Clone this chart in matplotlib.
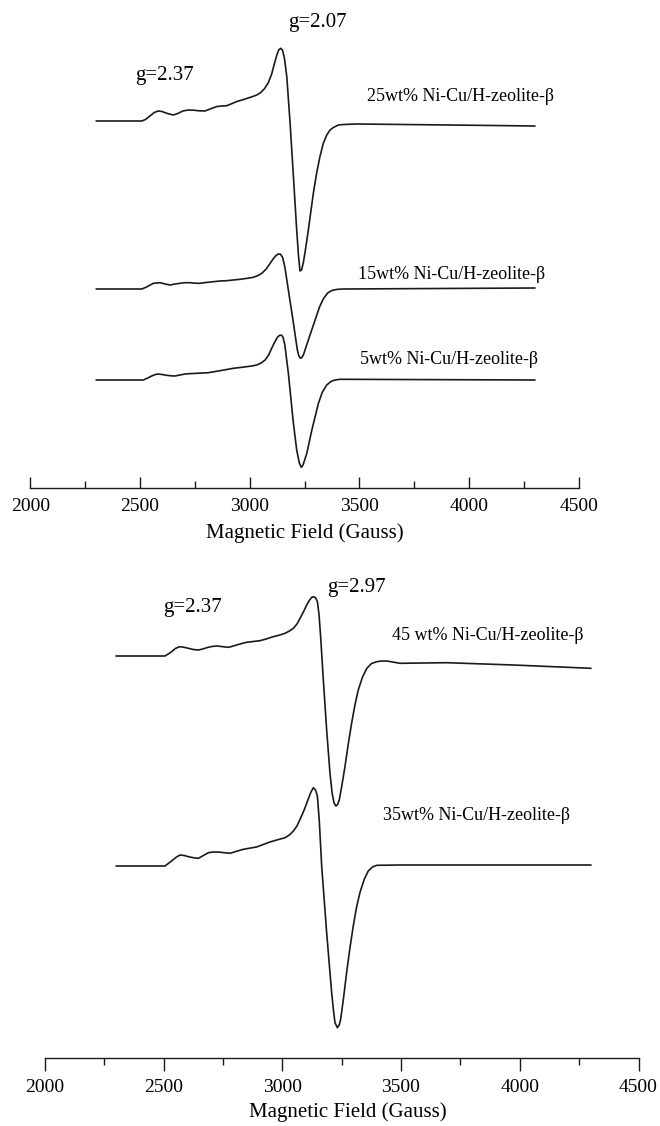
import numpy as np
import matplotlib
matplotlib.use("Agg")
import matplotlib.pyplot as plt
from matplotlib.ticker import MultipleLocator

plt.rcParams['font.family'] = ['Liberation Serif', 'DejaVu Serif']

# ---- EPR spectra (field in Gauss, signal in arbitrary units above each baseline) ----
field_25 = [2300, 2508, 2525, 2545, 2565, 2583, 2600, 2625, 2652, 2672, 2695, 2720, 2745,
            2770, 2796, 2825, 2850, 2875, 2895, 2920, 2941, 2965, 2986, 3010, 3032, 3050,
            3068, 3085, 3100, 3112, 3122, 3132, 3141, 3149, 3158, 3169, 3184, 3199, 3214,
            3222, 3229, 3236, 3244, 3255, 3267, 3290, 3305, 3320, 3335, 3351, 3366, 3381,
            3404, 3427, 3488, 3913, 4300]
signal_25 = [0, 0, 1.5, 5, 8.5, 10, 9.5, 7.5, 6, 7.5, 10, 11, 10.8,
             10.2, 10, 12.5, 14.5, 15, 15.3, 17.5, 19.5, 21, 22.5, 24.2, 26, 28.5,
             32.5, 38.5, 47, 57, 65, 71, 72.7, 71, 63, 44, -2.5, -55.5, -109,
             -134, -150, -149, -142, -127, -109, -72, -52, -35.5, -22.5, -14, -9, -6.5,
             -4, -3.5, -3, -4, -5]

field_15 = [2300, 2508, 2530, 2561, 2591, 2615, 2637, 2660, 2682, 2705, 2728, 2750, 2773,
            2800, 2834, 2865, 2895, 2925, 2956, 2986, 3016, 3035, 3055, 3075, 3093, 3108,
            3120, 3130, 3140, 3150, 3160, 3176, 3199, 3217, 3224, 3231, 3238, 3246, 3267,
            3298, 3318, 3335, 3355, 3374, 3400, 3427, 4300]
signal_15 = [0, 0, 2, 5.7, 6.3, 5, 4, 5, 5.7, 6.3, 6.3, 5.8, 5.7,
             6.5, 7.3, 8, 8.3, 9, 9.7, 10.6, 11.7, 13.2, 15.7, 20, 25.7, 30.5,
             33.5, 35, 34.8, 31.5, 22, -1, -34, -61, -67, -69.3, -68.5, -65, -51,
             -31, -18, -10, -4, -1.5, -0.3, 0, 1]

field_5 = [2300, 2515, 2535, 2553, 2570, 2583, 2600, 2622, 2640, 2660, 2682, 2705, 2730,
           2758, 2785, 2811, 2838, 2865, 2895, 2925, 2956, 2986, 3010, 3032, 3052, 3070,
           3086, 3100, 3114, 3126, 3136, 3145, 3152, 3160, 3176, 3199, 3214, 3226, 3235,
           3243, 3260, 3283, 3313, 3330, 3351, 3370, 3389, 3412, 4300]
signal_5 = [0, 0, 2, 4, 5.5, 6, 5.5, 4.7, 4.2, 4, 5, 6, 6.4,
            6.7, 7, 7.3, 8.3, 9.3, 10.5, 11.7, 12.5, 13.3, 14, 15, 17, 20,
            25, 31.7, 38, 42.7, 44.7, 44.8, 42.5, 35, 6.7, -43.3, -70, -83, -87.3,
            -85, -73.3, -50, -23.3, -12.5, -5, -1.5, 0, 0.7, 0]

field_45 = [2300, 2506, 2520, 2534, 2550, 2567, 2585, 2605, 2625, 2647, 2665, 2682, 2703,
            2724, 2750, 2773, 2790, 2808, 2830, 2850, 2878, 2906, 2935, 2962, 2990, 3012,
            3030, 3047, 3062, 3075, 3090, 3103, 3115, 3125, 3133, 3141, 3148, 3155, 3162,
            3173, 3187, 3201, 3210, 3218, 3226, 3233, 3240, 3250, 3264, 3278, 3292, 3306,
            3320, 3338, 3356, 3376, 3398, 3420, 3440, 3496, 3692, 3973, 4300]
signal_45 = [0, 0, 2, 4.3, 7.5, 9.3, 8.8, 7.7, 6.5, 6, 7, 8.3, 9.5,
             10, 9.3, 8.7, 9.7, 11, 12.5, 13.7, 14.5, 15.3, 17.2, 19.3, 21, 22.7,
             25, 27.7, 32, 37.7, 44.5, 51, 56, 58.8, 59.3, 58, 54.3, 41, 18,
             -24, -74, -117.3, -137, -147, -150, -148.5, -144, -131, -110.7, -88, -67.3, -49,
             -34, -21, -12.3, -7.5, -5.7, -5, -5, -7.3, -6.7, -9, -12.3]

field_35 = [2300, 2506, 2520, 2534, 2552, 2569, 2587, 2605, 2625, 2647, 2668, 2689, 2710,
            2731, 2755, 2780, 2808, 2836, 2865, 2892, 2920, 2948, 2980, 3012, 3030, 3047,
            3062, 3075, 3086, 3096, 3108, 3120, 3131, 3140, 3148, 3156, 3166, 3187, 3208,
            3215, 3222, 3232, 3240, 3246, 3258, 3271, 3285, 3299, 3313, 3327, 3345, 3362,
            3380, 3398, 3496, 4300]
signal_35 = [0, 0, 2.5, 5, 8.5, 11, 10.5, 9.3, 8.3, 7.7, 10.5, 13.3, 14,
             14, 13.3, 12.7, 14.7, 16.7, 17.9, 19, 21.5, 24, 26.2, 28.3, 31, 35,
             40, 46.7, 52.5, 58.3, 66, 73.5, 78.3, 76, 70, 45, 0, -66.7, -126.7,
             -143, -156.7, -161.7, -159, -153.3, -132, -106.7, -82, -60, -41, -26.7, -13.5, -5,
             -1, 0.7, 1, 1]

# vertical stacking offsets of each trace
offsets_top = {'25': 367, '15': 199, '5': 108}
offsets_bottom = {'45': 402, '35': 192}

labels_top = ['25wt% Ni-Cu/H-zeolite-\u03b2', '15wt% Ni-Cu/H-zeolite-\u03b2',
              '5wt% Ni-Cu/H-zeolite-\u03b2']
labels_bottom = ['45 wt% Ni-Cu/H-zeolite-\u03b2', '35wt% Ni-Cu/H-zeolite-\u03b2']

xticks = [2000, 2500, 3000, 3500, 4000, 4500]

W, H = 660, 1126
fig = plt.figure(figsize=(W / 100, H / 100), dpi=100)
fig.patch.set_facecolor('white')

def px_axes(left, right, top, bottom):
    return fig.add_axes([left / W, 1 - bottom / H, (right - left) / W, (bottom - top) / H])

line_kw = dict(color='#1a1a1a', lw=1.2, solid_joinstyle='round', solid_capstyle='round')

def style_axis(ax, height, tickdir, major_len, minor_len, pad):
    ax.set_xlim(2000, 4500)
    ax.set_ylim(0, height)
    for s in ('top', 'right', 'left'):
        ax.spines[s].set_visible(False)
    ax.spines['bottom'].set_linewidth(1.0)
    ax.spines['bottom'].set_color('#1a1a1a')
    ax.set_yticks([])
    ax.set_xticks(xticks)
    ax.xaxis.set_minor_locator(MultipleLocator(250))
    ax.tick_params(axis='x', which='major', direction=tickdir, length=major_len,
                   width=1.0, labelsize=14, pad=pad, color='#1a1a1a')
    ax.tick_params(axis='x', which='minor', direction=tickdir, length=minor_len,
                   width=1.0, color='#1a1a1a')
    ax.patch.set_alpha(0)

# ---- upper panel ----
ax1 = px_axes(30.3, 578.9, 0, 488)
style_axis(ax1, 488, 'in', 8, 5, 7)
ax1.plot(field_25, np.add(signal_25, offsets_top['25']), **line_kw)
ax1.plot(field_15, np.add(signal_15, offsets_top['15']), **line_kw)
ax1.plot(field_5, np.add(signal_5, offsets_top['5']), **line_kw)
ax1.set_xlabel('Magnetic Field (Gauss)', fontsize=15)
ax1.xaxis.set_label_coords(0.5, -35 / 488, transform=ax1.transAxes)

ax1.text(3309, 461, 'g=2.07', fontsize=15, ha='center', va='baseline')
ax1.text(2478, 408, 'g=2.37', fontsize=15, ha='left', va='baseline')
ax1.text(3535, 387, labels_top[0], fontsize=13, ha='left', va='baseline')
ax1.text(3494, 209, labels_top[1], fontsize=13, ha='left', va='baseline')
ax1.text(3503, 124, labels_top[2], fontsize=13, ha='left', va='baseline')

# ---- lower panel ----
ax2 = px_axes(44.75, 638.5, 560, 1058)
style_axis(ax2, 498, 'out', 9, 5, 6)
ax2.plot(field_45, np.add(signal_45, offsets_bottom['45']), **line_kw)
ax2.plot(field_35, np.add(signal_35, offsets_bottom['35']), **line_kw)
ax2.set_xlabel('Magnetic Field (Gauss)', fontsize=15)
ax2.xaxis.set_label_coords(0.51, -44 / 498, transform=ax2.transAxes)

ax2.text(2497, 446, 'g=2.37', fontsize=15, ha='left', va='baseline')
ax2.text(3188, 466, 'g=2.97', fontsize=15, ha='left', va='baseline')
ax2.text(3461, 418, labels_bottom[0], fontsize=13, ha='left', va='baseline')
ax2.text(3424, 238, labels_bottom[1], fontsize=13, ha='left', va='baseline')

fig.savefig('out.png', dpi=100, facecolor='white')
